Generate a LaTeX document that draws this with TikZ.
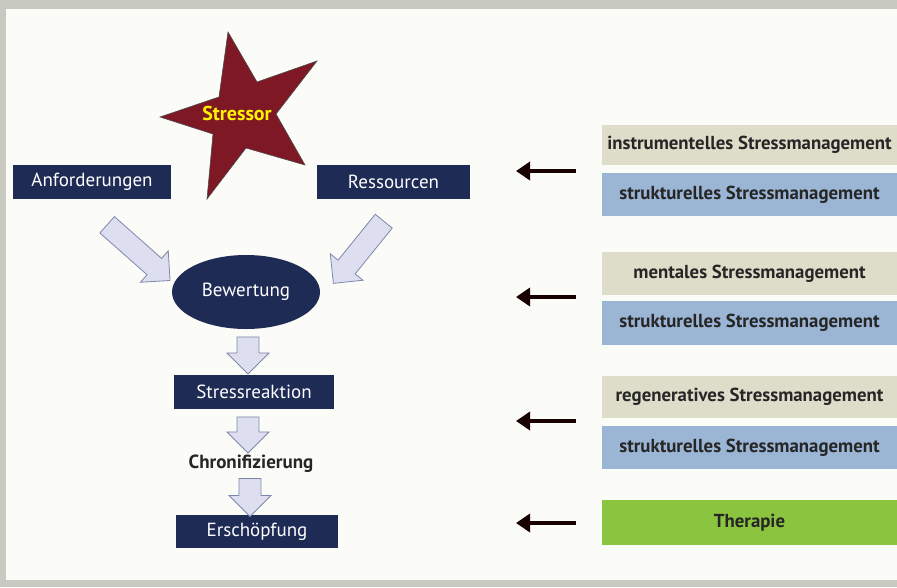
\documentclass[tikz,border=0pt]{standalone}
\usepackage{fontspec}
\setmainfont{PT Sans}
\usetikzlibrary{arrows.meta,shapes.geometric,shapes.arrows}
\definecolor{navy}{RGB}{30,43,85}
\definecolor{starred}{RGB}{125,24,36}
\definecolor{beige}{RGB}{222,221,202}
\definecolor{steel}{RGB}{155,181,213}
\definecolor{grass}{RGB}{139,196,63}
\definecolor{lav}{RGB}{221,223,240}
\definecolor{lavline}{RGB}{125,135,172}
\definecolor{paper}{RGB}{251,251,247}
\definecolor{frame}{RGB}{200,201,192}
\begin{document}
\begin{tikzpicture}[x=1pt,y=-1pt,
 navybox/.style={fill=navy,text=white,minimum height=34pt,inner sep=0pt,font=\fontsize{19}{19}\selectfont},
 mgmt/.style={minimum width=295pt,inner sep=0pt,font=\fontsize{18.8}{19}\selectfont\bfseries,text=black!85},
 blockarrow/.style={single arrow,fill=lav,draw=lavline,line width=0.8pt,inner sep=0pt,
   single arrow head extend=10pt,single arrow tip angle=90},
 ptr/.style={line width=4.5pt,draw=black!90!red,-{Triangle[length=14pt,width=18pt]}}]
 \useasboundingbox (0,0) rectangle (897,587);
 \fill[frame] (0,0) rectangle (897,587);
 \fill[paper] (6,9) rectangle (897,580);
 % star
 \draw[fill=starred,draw=black!70,line width=0.6pt] (228,32)--(257,82)--(317,61)--(276,114)--(305,165)
   --(246,148)--(207,199)--(213,134)--(160,117)--(219,97)--cycle;
 \node[text=yellow,font=\fontsize{20}{20}\selectfont\bfseries] (stressor) at (237,113) {Stressor};
 % left column
 \node[navybox,minimum width=158pt] (anf) at (92,182) {Anforderungen};
 \node[navybox,minimum width=153pt] (res) at (393.5,181.5) {Ressourcen};
 \node[ellipse,fill=navy,text=white,minimum width=148pt,minimum height=74pt,
   font=\fontsize{19}{19}\selectfont] (bew) at (246,292) {Bewertung};
 \node[navybox,minimum width=160pt] (reak) at (254,392) {Stressreaktion};
 \node[font=\fontsize{19}{19}\selectfont\bfseries,text=black!85] (chron) at (251,464) {Chronifizierung};
 \node[navybox,minimum width=162pt,minimum height=33pt] (ersch) at (257,531.5) {Erschöpfung};
 % block arrows
 \node[blockarrow,minimum height=84pt,minimum width=42pt,inner ysep=10.5pt,rotate=-41.5] (pa) at (134.5,249) {};
 \node[blockarrow,minimum height=80pt,minimum width=42pt,inner ysep=10.5pt,rotate=-129] (pb) at (362,248) {};
 \node[blockarrow,minimum height=37pt,minimum width=42pt,inner ysep=10.5pt,rotate=-90] (pc) at (248,350) {};
 \node[blockarrow,minimum height=36pt,minimum width=42pt,inner ysep=10.5pt,rotate=-90] (pd) at (248,429.5) {};
 \node[blockarrow,minimum height=38pt,minimum width=42pt,inner ysep=10.5pt,rotate=-90] (pe) at (250,492) {};
 % right column
 \node[mgmt,fill=beige,minimum height=40pt] (instr) at (749.5,145) {instrumentelles Stressmanagement};
 \node[mgmt,fill=steel,minimum height=43pt] (strA) at (749.5,194.5) {strukturelles Stressmanagement};
 \node[mgmt,fill=beige,minimum height=43pt] (ment) at (749.5,273.5) {mentales Stressmanagement};
 \node[mgmt,fill=steel,minimum height=44pt] (strB) at (749.5,323) {strukturelles Stressmanagement};
 \node[mgmt,fill=beige,minimum height=42pt] (regen) at (749.5,397) {regeneratives Stressmanagement};
 \node[mgmt,fill=steel,minimum height=43pt] (strC) at (749.5,447.5) {strukturelles Stressmanagement};
 \node[mgmt,fill=grass,minimum height=45pt] (ther) at (749.5,522.5) {Therapie};
 % arrows
 \coordinate (s1) at (576,171); \coordinate (e1) at (516,171);
 \coordinate (s2) at (576,297); \coordinate (e2) at (516,297);
 \coordinate (s3) at (576,421); \coordinate (e3) at (516,421);
 \coordinate (s4) at (576,523); \coordinate (e4) at (516,523);
 \draw[ptr] (s1) -- (e1);
 \draw[ptr] (s2) -- (e2);
 \draw[ptr] (s3) -- (e3);
 \draw[ptr] (s4) -- (e4);
\end{tikzpicture}
\end{document}
